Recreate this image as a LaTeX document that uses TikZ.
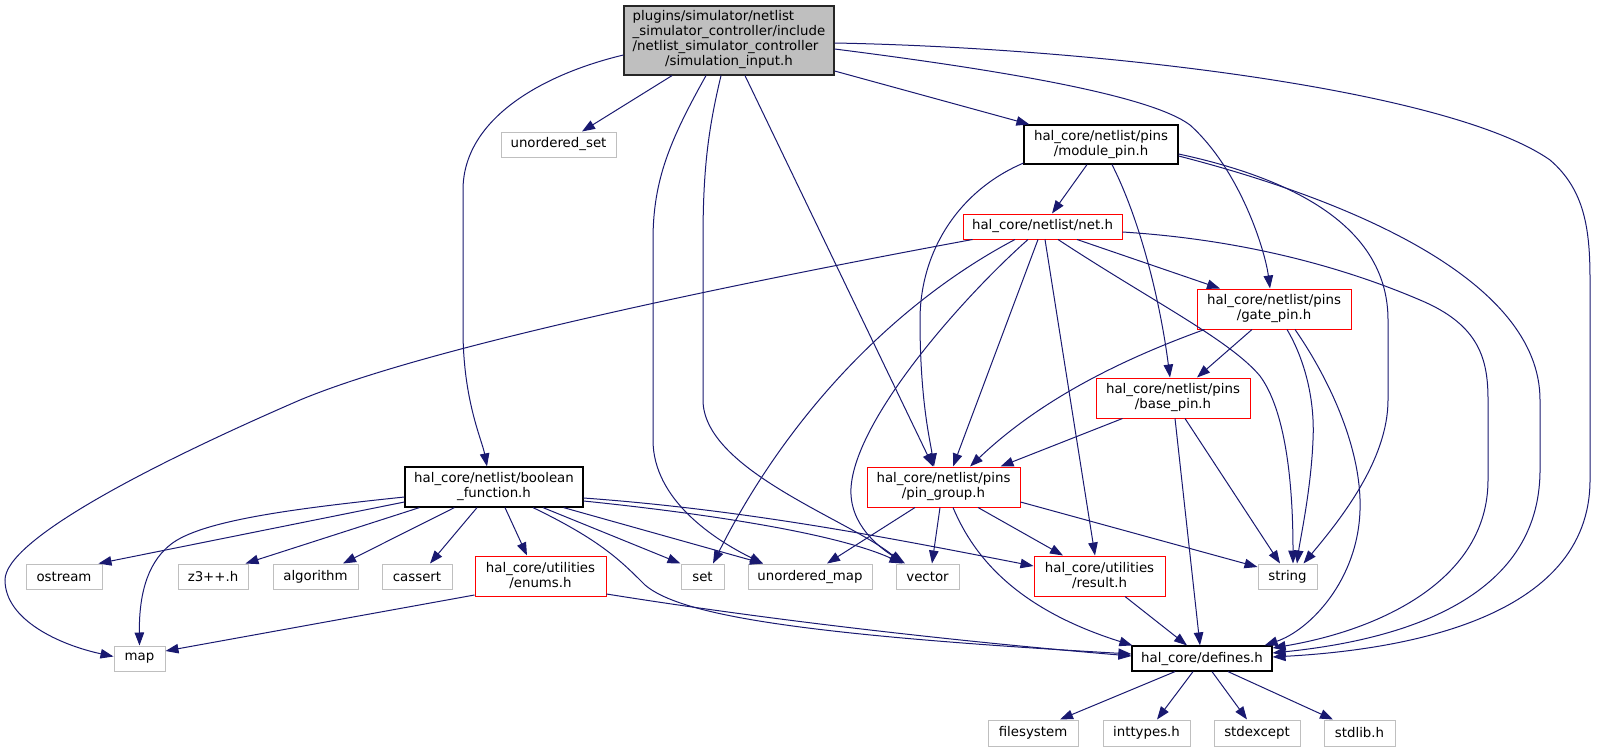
\documentclass[tikz,border=0pt]{standalone}
\usepackage{fontspec}
\setmainfont{DejaVu Sans}
\usepackage{tikz}
\usetikzlibrary{arrows.meta}
\definecolor{edgeblue}{HTML}{191970}
\definecolor{boxgray}{HTML}{BFBFBF}

\begin{document}
\begin{tikzpicture}[x=1pt, y=-1pt, >={Triangle[length=13pt,width=9.5pt]},
    every node/.style={font=\fontsize{13.33}{15}\selectfont, inner sep=0pt, align=center},
    extfile/.style={draw=boxgray, line width=1pt, fill=white},
    localfile/.style={draw=black, line width=1.2pt, fill=white},
    partfile/.style={draw=red, line width=1pt, fill=white},
    rootfile/.style={draw=black!85, line width=1.2pt, fill=boxgray},
    incl/.style={->, draw=edgeblue, line width=1pt}]

    \useasboundingbox (0,0) rectangle (1597,752);

    % Files
    \node[rootfile, minimum width=210pt, minimum height=69pt] (main) at (729,40.5) {\begin{tabular}{@{}l@{}}plugins/simulator/netlist\\ \_simulator\_controller/include\\ /netlist\_simulator\_controller\\ \multicolumn{1}{@{}c@{}}{/simulation\_input.h}\end{tabular}};
    \node[extfile, minimum width=115pt, minimum height=25pt] (uset) at (558.5,144.5) {unordered\_set};
    \node[localfile, minimum width=154pt, minimum height=39pt] (modpin) at (1101,144.5) {hal\_core/netlist/pins\\/module\_pin.h};
    \node[partfile, minimum width=159pt, minimum height=25pt] (net) at (1042.5,226.5) {hal\_core/netlist/net.h};
    \node[partfile, minimum width=154pt, minimum height=40pt] (gatepin) at (1274,309) {hal\_core/netlist/pins\\/gate\_pin.h};
    \node[partfile, minimum width=154pt, minimum height=40pt] (basepin) at (1173,398) {hal\_core/netlist/pins\\/base\_pin.h};
    \node[localfile, minimum width=178pt, minimum height=40pt] (boolfn) at (494,487) {hal\_core/netlist/boolean\\\_function.h};
    \node[partfile, minimum width=153pt, minimum height=40pt] (pingroup) at (943.5,487) {hal\_core/netlist/pins\\/pin\_group.h};
    \node[extfile, minimum width=76pt, minimum height=25pt] (ostream) at (64,576.5) {ostream};
    \node[extfile, minimum width=70pt, minimum height=25pt] (zthree) at (213,576.5) {z3++.h};
    \node[extfile, minimum width=85pt, minimum height=25pt] (algo) at (315.5,576.5) {algorithm};
    \node[extfile, minimum width=70pt, minimum height=25pt] (cassert) at (417,576.5) {cassert};
    \node[partfile, minimum width=131pt, minimum height=40pt] (enums) at (540.5,576) {hal\_core/utilities\\/enums.h};
    \node[extfile, minimum width=43pt, minimum height=25pt] (set) at (702.5,576.5) {set};
    \node[extfile, minimum width=124pt, minimum height=25pt] (umap) at (810,576.5) {unordered\_map};
    \node[extfile, minimum width=63pt, minimum height=25pt] (vector) at (927.5,576.5) {vector};
    \node[partfile, minimum width=131pt, minimum height=40pt] (result) at (1099.5,576) {hal\_core/utilities\\/result.h};
    \node[extfile, minimum width=59pt, minimum height=25pt] (string) at (1287.5,576.5) {string};
    \node[extfile, minimum width=51pt, minimum height=25pt] (map) at (139.5,658.5) {map};
    \node[localfile, minimum width=140pt, minimum height=25pt] (defines) at (1202,658.5) {hal\_core/defines.h};
    \node[extfile, minimum width=90pt, minimum height=26pt] (fs) at (1033,733) {filesystem};
    \node[extfile, minimum width=87pt, minimum height=26pt] (inttypes) at (1146.5,733) {inttypes.h};
    \node[extfile, minimum width=86pt, minimum height=26pt] (stdexcept) at (1257,733) {stdexcept};
    \node[extfile, minimum width=71pt, minimum height=26pt] (stdlib) at (1359.5,733) {stdlib.h};

    % simulation_input.h
    \draw[incl] ([yshift=-14.5pt]main.west) .. controls (540,75) and (463,120) .. (463,190) -- (463,330) .. controls (463,400) and (482,440) .. ([xshift=-7pt]boolfn.north);
    \draw[incl] ([xshift=-57pt]main.south) -- ([xshift=23.5pt]uset.north);
    \draw[incl] ([xshift=-23pt]main.south) .. controls (670,140) and (653,180) .. (653,240) -- (653,440) .. controls (653,500) and (715,540) .. ([xshift=-47pt]umap.north);
    \draw[incl] ([xshift=-8pt]main.south) .. controls (708,130) and (703,170) .. (703,240) -- (703,400) .. controls (703,470) and (850,520) .. ([xshift=-25pt]vector.north);
    \draw[incl] ([xshift=16pt]main.south) -- ([xshift=-10.5pt]pingroup.north);
    \draw[incl] ([yshift=-30.5pt]main.east) -- ([xshift=6pt]modpin.north west);
    \draw[incl] ([yshift=-8.5pt]main.east) .. controls (1000,70) and (1150,95) .. (1190,125) .. controls (1240,170) and (1265,250) .. ([xshift=-4pt]gatepin.north);
    \draw[incl] ([yshift=-2.5pt]main.east) .. controls (1100,48) and (1450,90) .. (1550,160) .. controls (1585,190) and (1590,230) .. (1590,280) -- (1590,480) .. controls (1590,620) and (1400,650) .. ([yshift=1.5pt]defines.east);

    % module_pin.h
    \draw[incl] ([xshift=-14pt]modpin.south) -- ([xshift=9.5pt]net.north);
    \draw[incl] ([yshift=1.5pt]modpin.south west) .. controls (960,190) and (920,250) .. (920,320) .. controls (920,400) and (930,440) .. ([xshift=-9.5pt]pingroup.north);
    \draw[incl] ([xshift=11pt]modpin.south) .. controls (1140,220) and (1160,300) .. ([xshift=-3pt]basepin.north);
    \draw[incl] ([yshift=-9.5pt]modpin.east) .. controls (1300,180) and (1388,230) .. (1388,320) -- (1388,400) .. controls (1388,460) and (1340,520) .. ([xshift=-14pt]string.north east);
    \draw[incl] ([yshift=-11.5pt]modpin.east) .. controls (1350,200) and (1540,280) .. (1540,400) -- (1540,470) .. controls (1540,600) and (1400,640) .. ([yshift=5.5pt]defines.east);

    % net.h
    \draw[incl] ([xshift=10pt]net.south west) .. controls (700,290) and (420,350) .. (300,400) .. controls (150,465) and (5,540) .. (5,580) .. controls (5,620) and (60,645) .. ([yshift=2pt]map.west);
    \draw[incl] ([xshift=-27.5pt]net.south) .. controls (900,300) and (790,410) .. ([xshift=10.5pt]set.north);
    \draw[incl] ([xshift=-14.5pt]net.south) .. controls (960,300) and (855,420) .. (851,488) .. controls (849,525) and (880,548) .. ([xshift=-22.5pt]vector.north);
    \draw[incl] ([xshift=-4.5pt]net.south) -- ([xshift=9.5pt]pingroup.north);
    \draw[incl] ([xshift=2.5pt]net.south) -- ([xshift=-4.5pt]result.north);
    \draw[incl] ([xshift=15.5pt]net.south) .. controls (1150,300) and (1230,340) .. (1260,376) .. controls (1285,410) and (1293,480) .. ([xshift=5.5pt]string.north);
    \draw[incl] ([xshift=34.5pt]net.south) -- ([xshift=-54pt]gatepin.north);
    \draw[incl] ([yshift=-5.5pt]net.east) .. controls (1250,240) and (1350,270) .. (1420,300) .. controls (1480,325) and (1488,360) .. (1488,400) -- (1488,480) .. controls (1488,580) and (1380,630) .. ([yshift=10.5pt]defines.east);

    % gate_pin.h
    \draw[incl] ([xshift=8pt]gatepin.south west) .. controls (1120,360) and (1040,400) .. ([xshift=26.5pt]pingroup.north);
    \draw[incl] ([xshift=-22pt]gatepin.south) -- ([xshift=24pt]basepin.north);
    \draw[incl] ([xshift=13pt]gatepin.south) .. controls (1305,360) and (1315,400) .. (1313,440) .. controls (1311,490) and (1300,540) .. ([xshift=9.5pt]string.north);
    \draw[incl] ([xshift=21pt]gatepin.south) .. controls (1330,380) and (1362,450) .. (1360,510) .. controls (1358,580) and (1310,630) .. ([xshift=-8pt]defines.north east);

    % base_pin.h
    \draw[incl] ([xshift=27pt]basepin.south west) -- ([xshift=-20pt]pingroup.north east);
    \draw[incl] ([xshift=2pt]basepin.south) -- ([xshift=-2pt]defines.north);
    \draw[incl] ([xshift=12pt]basepin.south) -- ([xshift=-7.5pt]string.north);

    % pin_group.h
    \draw[incl] ([xshift=-28.5pt]pingroup.south) -- ([xshift=17pt]umap.north);
    \draw[incl] ([xshift=-3.5pt]pingroup.south) -- ([xshift=4.5pt]vector.north);
    \draw[incl] ([xshift=34.5pt]pingroup.south) -- ([xshift=-36.5pt]result.north);
    \draw[incl] ([yshift=-15pt]pingroup.east) -- ([yshift=9.5pt]string.west);
    \draw[incl] ([xshift=9.5pt]pingroup.south) .. controls (975,560) and (1020,610) .. ([xshift=1pt]defines.north west);

    % result.h
    \draw[incl] ([xshift=25.5pt]result.south) -- ([xshift=-15pt]defines.north);

    % boolean_function.h
    \draw[incl] ([yshift=-10pt]boolfn.west) .. controls (300,508) and (200,520) .. (170,545) .. controls (145,565) and (139,600) .. (map.north);
    \draw[incl] ([yshift=-15pt]boolfn.west) -- ([xshift=-4pt]ostream.north east);
    \draw[incl] ([xshift=15pt]boolfn.south west) -- ([xshift=-3pt]zthree.north east);
    \draw[incl] ([xshift=50pt]boolfn.south west) -- ([xshift=27.5pt]algo.north);
    \draw[incl] ([xshift=-17pt]boolfn.south) -- ([xshift=13pt]cassert.north);
    \draw[incl] ([xshift=11pt]boolfn.south) -- ([xshift=-13.5pt]enums.north);
    \draw[incl] ([xshift=49pt]boolfn.south) -- (set.north west);
    \draw[incl] ([xshift=-20pt]boolfn.south east) -- ([xshift=-47pt]umap.north);
    \draw[incl] ([yshift=-14pt]boolfn.east) .. controls (720,515) and (840,535) .. ([xshift=-25pt]vector.north);
    \draw[incl] ([yshift=-11pt]boolfn.east) .. controls (750,510) and (900,540) .. ([yshift=10pt]result.west);
    \draw[incl] ([xshift=39pt]boolfn.south) .. controls (600,540) and (620,560) .. (645,585) .. controls (680,615) and (800,635) .. ([yshift=4.5pt]defines.west);

    % enums.h
    \draw[incl] ([yshift=-18pt]enums.east) .. controls (800,625) and (1000,645) .. ([yshift=2.5pt]defines.west);
    \draw[incl] ([yshift=-19pt]enums.west) -- ([yshift=7.5pt]map.east);

    % defines.h
    \foreach \sx/\t/\ex in {-27/fs/27, -9/inttypes/10.5, 10/stdexcept/-10, 26/stdlib/-26.5}
        \draw[incl] ([xshift=\sx pt]defines.south) -- ([xshift=\ex pt]\t.north);
\end{tikzpicture}
\end{document}
